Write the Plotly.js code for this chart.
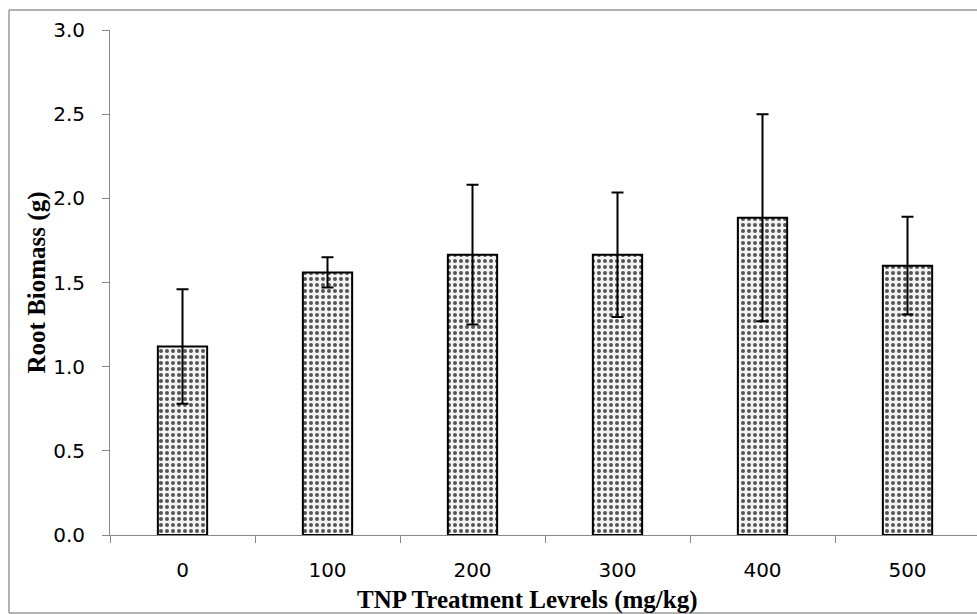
<!DOCTYPE html>
<html>
<head>
<meta charset="utf-8">
<script src="https://cdn.plot.ly/plotly-3.0.1.min.js"></script>
<style>
html,body{margin:0;padding:0;overflow:hidden;background:#fff;}
#chart{width:982px;height:614px;}
</style>
</head>
<body>
<div id="chart"></div>
<script>
// Data
const categories = ["0", "100", "200", "300", "400", "500"];
const rootBiomass = [1.12, 1.56, 1.665, 1.665, 1.885, 1.60];
const errorValues = [0.34, 0.09, 0.415, 0.37, 0.615, 0.29];
const yTickValues = [0, 0.5, 1.0, 1.5, 2.0, 2.5, 3.0];
const yTickLabels = ["0.0", "0.5", "1.0", "1.5", "2.0", "2.5", "3.0"];
const xTitle = "TNP Treatment Levrels (mg/kg)";
const yTitle = "Root Biomass (g)";

const W = 982, H = 614;
const M = {l: 110, r: 2, t: 30, b: 79};
const plotW = W - M.l - M.r, plotH = H - M.t - M.b;
const px = v => (v - M.l) / plotW;
const py = v => 1 - (v - M.t) / plotH;

const trace = {
  type: "bar",
  x: categories,
  y: rootBiomass,
  width: 0.34,
  marker: {
    color: "#ffffff",
    line: {color: "#000000", width: 2},
    pattern: {shape: ".", fgcolor: "#555555", bgcolor: "#f4f4f4", size: 6, solidity: 0.35}
  },
  error_y: {type: "data", array: errorValues, visible: true, color: "#000000", thickness: 2, width: 6},
  hoverinfo: "x+y"
};

const layout = {
  width: W, height: H,
  margin: M,
  paper_bgcolor: "#ffffff",
  plot_bgcolor: "#ffffff",
  showlegend: false,
  xaxis: {
    type: "category",
    range: [-0.5, 5.5],
    showline: true, linecolor: "#888888", linewidth: 1,
    ticks: "outside", tickson: "boundaries", ticklen: 7, tickcolor: "#888888",
    showgrid: false, zeroline: false,
    tickfont: {family: "DejaVu Sans", size: 20, color: "#000000"},
    ticklabelstandoff: 17,
    title: {text: ""}
  },
  yaxis: {
    range: [0, 3],
    tickvals: yTickValues,
    ticktext: yTickLabels,
    showline: true, linecolor: "#888888", linewidth: 1,
    ticks: "outside", ticklen: 7, tickcolor: "#888888",
    showgrid: false, zeroline: false,
    tickfont: {family: "DejaVu Sans", size: 20, color: "#000000"},
    ticklabelstandoff: 13,
    title: {text: yTitle, font: {family: "Liberation Serif", size: 25, color: "#000000", weight: "bold"}, standoff: 0}
  },
  annotations: [{
    text: "<b>" + xTitle + "</b>",
    xref: "paper", yref: "paper",
    x: px(527), y: py(600),
    xanchor: "center", yanchor: "middle",
    showarrow: false,
    font: {family: "Liberation Serif", size: 25, color: "#000000"}
  }],
  shapes: [
    {type: "line", xref: "paper", yref: "paper", x0: px(9), x1: px(9), y0: py(10), y1: py(613), line: {color: "#999999", width: 1.5}},
    {type: "line", xref: "paper", yref: "paper", x0: px(9), x1: px(990), y0: py(10), y1: py(10), line: {color: "#999999", width: 1.5}},
    {type: "line", xref: "paper", yref: "paper", x0: px(9), x1: px(990), y0: py(613), y1: py(613), line: {color: "#999999", width: 1.5}}
  ]
};

Plotly.newPlot("chart", [trace], layout, {displayModeBar: false, staticPlot: true});
</script>
</body>
</html>
